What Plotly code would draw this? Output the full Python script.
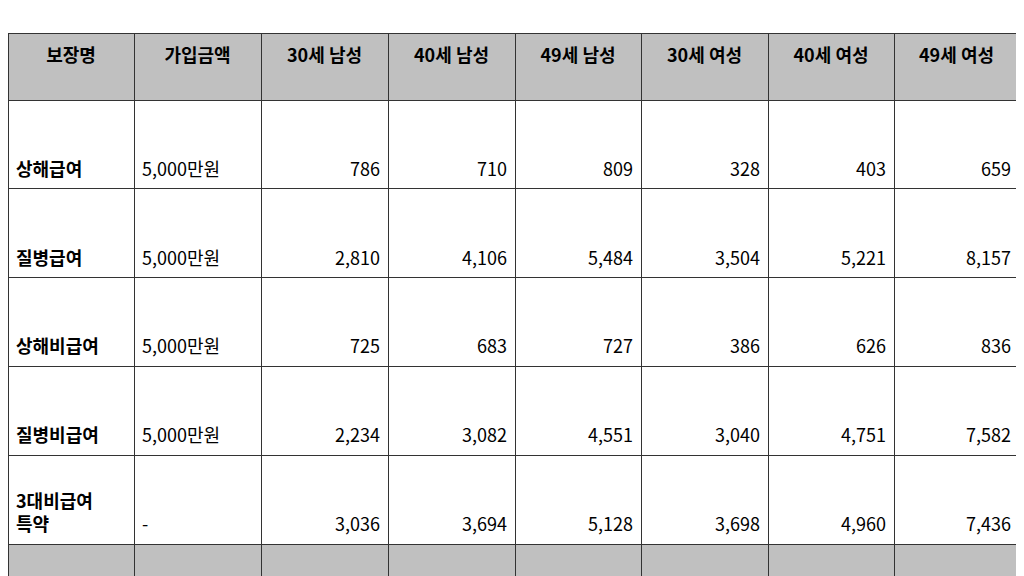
import plotly.graph_objects as go

headers = ["보장명", "가입금액", "30세 남성", "40세 남성", "49세 남성", "30세 여성", "40세 여성", "49세 여성"]
items = ["상해급여", "질병급여", "상해비급여", "질병비급여", "3대비급여<br>특약", "합계보험료"]
amounts = ["5,000만원", "5,000만원", "5,000만원", "5,000만원", "-", "-"]
m30 = ["786", "2,810", "725", "2,234", "3,036", "9,591"]
m40 = ["710", "4,106", "683", "3,082", "3,694", "12,275"]
m49 = ["809", "5,484", "727", "4,551", "5,128", "17,763"]
f30 = ["328", "3,504", "386", "3,040", "3,698", "11,052"]
f40 = ["403", "5,221", "626", "4,751", "4,960", "15,721"]
f49 = ["659", "8,157", "836", "7,582", "7,436", "24,460"]

n = len(items)
NB = "\u00a0<br>"
def col(vals, bold_all=False, bold_last=True):
    out = []
    for i, v in enumerate(vals):
        t = v
        if bold_all or (bold_last and i == n - 1):
            t = "<b>" + t.replace("<br>", "</b><br><b>") + "</b>"
        out.append((NB if "<br>" in v else NB + NB) + t)
    return out

cells = [col(items, bold_all=True), col(amounts, bold_last=False)] + [col(c) for c in (m30, m40, m49, f30, f40, f49)]
gray = "#c0c0c0"
fill = [[("white" if i < n - 1 else gray) for i in range(n)]] * 8

fig = go.Figure(go.Table(
    domain=dict(x=[0, 1011/1024], y=[0, 1 - 25/576]),
    columnwidth=[126, 127, 127, 127, 126, 127, 126, 125],
    header=dict(values=["<b>%s</b>" % h for h in headers], height=67, fill_color=gray,
                line=dict(color="#333", width=1), align="center",
                font=dict(family="Noto Sans CJK KR", size=18, color="black")),
    cells=dict(values=cells, height=68, fill_color=fill, line=dict(color="#333", width=1),
               align=["left", "left"] + ["right"] * 6,
               font=dict(family="Noto Sans CJK KR", size=18, color="black")),
))
fig.update_layout(width=1024, height=576, margin=dict(l=0, r=0, t=0, b=0), paper_bgcolor="white")
fig.write_html("out.html")
